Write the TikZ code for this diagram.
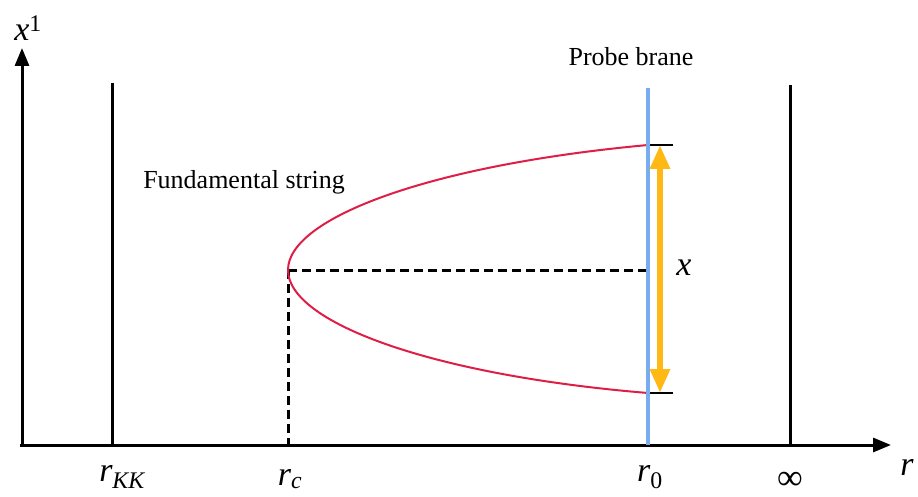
\documentclass[tikz,border=0pt]{standalone}
\usepackage{amsmath}
\usepackage{fontspec}
\setmainfont{Liberation Serif}
\usetikzlibrary{arrows.meta}
\definecolor{stringred}{RGB}{222,30,70}
\definecolor{branblue}{RGB}{120,172,240}
\definecolor{gapgold}{RGB}{255,184,20}
\tikzset{
  axis/.style={line width=3pt,-{Triangle[length=18pt,width=14pt]}},
  wall/.style={line width=3pt},
  guide/.style={line width=3pt,dash pattern=on 9pt off 5pt},
  mlabel/.style={font=\fontsize{34}{36}\selectfont\itshape},
  tlabel/.style={font=\fontsize{26}{28}\selectfont}
}
\begin{document}
\begin{tikzpicture}[x=1pt,y=-1pt]
\useasboundingbox (0,0) rectangle (918,497);
% axes
\coordinate (O) at (22,445);
\coordinate (ytop) at (22,48);
\coordinate (xend) at (891,445);
\draw[axis] (O) -- (ytop);
\draw[axis] ([xshift=-2pt]O) -- (xend);
\node[mlabel] (xlab) at (28,28) {x$^{\textup{1}}$};
\node[mlabel] (rlab) at (907,467) {r};
% walls
\coordinate (kktop) at (112,83);
\coordinate (kkbot) at (112,445);
\coordinate (inftop) at (790,85);
\coordinate (infbot) at (790,445);
\draw[wall] (kktop) -- (kkbot);
\draw[wall] (inftop) -- (infbot);
\node[mlabel] (rkk) at (122,477) {r$_{\textit{KK}}$};
\node[font=\fontsize{36}{38}\selectfont,inner sep=0pt] (inflab) at (790,481) {∞};
% string and turning point
\coordinate (turn) at (288,270);
\coordinate (rc) at (288,445);
\coordinate (mid) at (648,270);
\coordinate (send) at (648,145);
\coordinate (sbot) at (648,393);
\draw[guide] (turn) -- (mid);
\draw[guide] (turn) -- (rc);
\draw[stringred,line width=2pt] (send) .. controls (430,165) and (288,218) .. (turn)
  .. controls (288,322) and (430,375) .. (sbot);
\node[mlabel] (rclab) at (290,479) {r$_{\textit{c}}$};
\node[tlabel] (fslab) at (244,182) {Fundamental string};
% probe brane
\coordinate (bratop) at (648,88);
\coordinate (brabot) at (648,445);
\draw[branblue,line width=4pt] (bratop) -- (brabot);
\node[tlabel] (pblab) at (631,57) {Probe brane};
\node[mlabel] (r0lab) at (650,477) {r$_{\textup{0}}$};
% separation
\coordinate (upper) at (660,145);
\coordinate (lower) at (660,393);
\draw[line width=2.5pt] (650,145) -- (673,145);
\draw[line width=2.5pt] (650,393) -- (673,393);
\draw[gapgold,line width=6pt,{Triangle[length=24pt,width=19pt]}-{Triangle[length=24pt,width=19pt]}] (upper) -- (lower);
\node[mlabel] (xsep) at (684,268) {x};
\end{tikzpicture}
\end{document}
